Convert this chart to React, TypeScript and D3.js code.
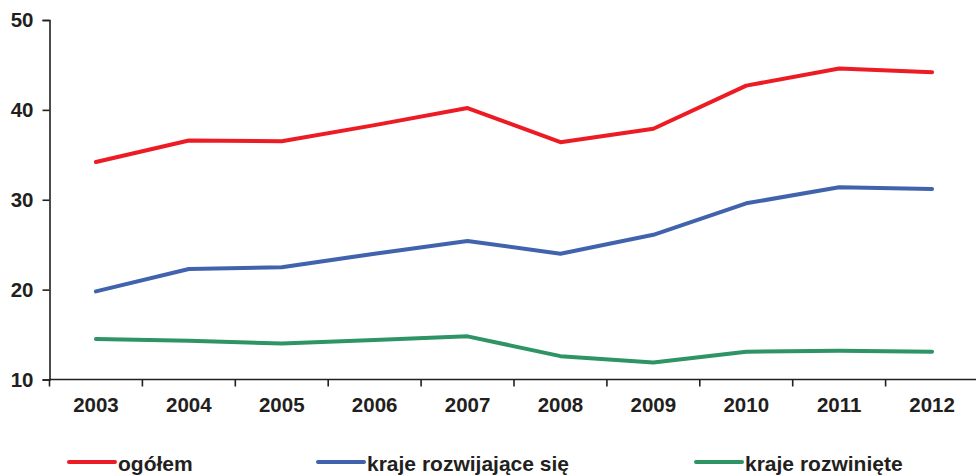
import React, { useRef, useEffect } from 'react';
import * as d3 from 'd3';

// years on the x axis
const years = ['2003', '2004', '2005', '2006', '2007', '2008', '2009', '2010', '2011', '2012'];

// series values
const ogolem = [34.2, 36.6, 36.5, 38.3, 40.2, 36.4, 37.9, 42.7, 44.6, 44.2];
const krajeRozwijajace = [19.8, 22.3, 22.5, 24.0, 25.4, 24.0, 26.1, 29.6, 31.4, 31.2];
const krajeRozwiniete = [14.5, 14.3, 14.0, 14.4, 14.8, 12.6, 11.9, 13.1, 13.2, 13.1];

const yTicks = [10, 20, 30, 40, 50];

const seriesNames = ['ogółem', 'kraje rozwijające się', 'kraje rozwinięte'];
const seriesColors = ['#ed1c24', '#4163ae', '#2e9463'];

const App = () => {
    const svgRef = useRef<SVGSVGElement>(null);

    useEffect(() => {
        const w = 976;
        const h = 475;
        const svg = d3.select(svgRef.current);
        svg.selectAll('*').remove();

        const textColor = '#231f20';
        const font = '"Liberation Sans", Arial, sans-serif';

        // scales
        const xScale = d3.scaleBand()
            .domain(years)
            .range([49.5, 978.5]);

        const yScale = d3.scaleLinear()
            .domain([10, 50])
            .range([379.5, 20]);

        // y axis
        const yAxis = svg.append('g')
            .attr('transform', 'translate(49.5, 0)')
            .call(d3.axisLeft(yScale).tickValues(yTicks).tickSize(7).tickPadding(9).tickFormat(d3.format('d')));
        yAxis.select('.domain').attr('stroke', textColor).attr('stroke-width', 1.6);
        yAxis.selectAll('.tick line').attr('stroke', textColor).attr('stroke-width', 1.6);
        yAxis.selectAll('.tick text')
            .attr('fill', textColor)
            .attr('font-family', font)
            .attr('font-weight', 'bold')
            .attr('font-size', 20.5);

        // x axis: ticks on band boundaries
        const xg = svg.append('g').attr('transform', 'translate(0, 379.5)');
        xg.append('line')
            .attr('x1', 49.5).attr('x2', w)
            .attr('stroke', textColor).attr('stroke-width', 1.6);
        xg.selectAll('.xtick')
            .data(years)
            .join('line')
            .attr('x1', d => xScale(d)!)
            .attr('x2', d => xScale(d)!)
            .attr('y1', 0).attr('y2', 7)
            .attr('stroke', textColor).attr('stroke-width', 1.6);
        xg.selectAll('.xlabel')
            .data(years)
            .join('text')
            .attr('x', d => xScale(d)! + xScale.bandwidth() / 2)
            .attr('y', 32.5)
            .attr('text-anchor', 'middle')
            .attr('fill', textColor)
            .attr('font-family', font)
            .attr('font-weight', 'bold')
            .attr('font-size', 20.5)
            .text(d => d);

        // lines
        const allSeries = [ogolem, krajeRozwijajace, krajeRozwiniete];
        const line = d3.line<number>()
            .x((v, i) => xScale(years[i])! + xScale.bandwidth() / 2)
            .y(v => yScale(v));

        svg.selectAll('.series')
            .data(allSeries)
            .join('path')
            .attr('d', d => line(d))
            .attr('fill', 'none')
            .attr('stroke', (d, i) => seriesColors[i])
            .attr('stroke-width', 4)
            .attr('stroke-linecap', 'round')
            .attr('stroke-linejoin', 'round');

        // legend
        const legendX = [69, 318, 696];
        const legend = svg.selectAll('.legend')
            .data(seriesNames)
            .join('g')
            .attr('transform', (d, i) => `translate(${legendX[i]}, 462)`);
        legend.append('line')
            .attr('x1', 0).attr('x2', 46)
            .attr('stroke', (d, i) => seriesColors[i])
            .attr('stroke-width', 4)
            .attr('stroke-linecap', 'round');
        legend.append('text')
            .attr('x', 49)
            .attr('y', 8.5)
            .attr('fill', textColor)
            .attr('font-family', font)
            .attr('font-weight', 'bold')
            .attr('font-size', 21)
            .text(d => d);

        svg.attr('width', w).attr('height', h);
    }, []);

    return (
        <svg ref={svgRef} width={976} height={475}
            style={{ position: 'absolute', left: 0, top: 0, background: 'white' }} />
    );
};

export default App;
